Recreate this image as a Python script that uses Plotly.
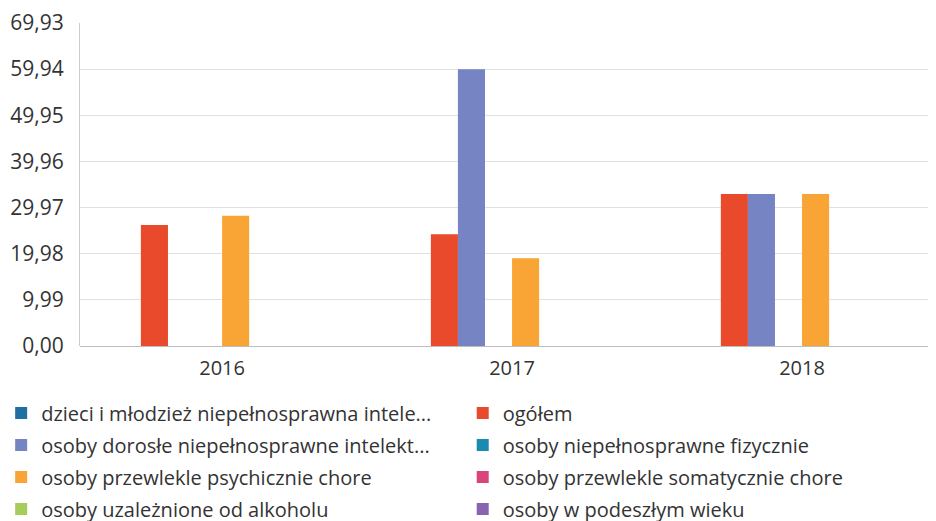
import plotly.graph_objects as go

years = ["2016", "2017", "2018"]

ogolem = [26.2, 24.2, 32.9]
dorosle = [None, 59.94, 32.9]
fizycznie = [None, None, None]
psychicznie = [28.2, 19.0, 32.9]
somatycznie = [None, None, None]
wieku = [None, None, None]
dzieci = [None, None, None]
alkohol = [None, None, None]

tick_step = 9.99
y_max = 69.93

# (name, values, color, slot, legend, rank)
series = [
    ("ogółem", ogolem, "#E84A2B", "0", "legend2", 1),
    ("osoby dorosłe niepełnosprawne intelekt...", dorosle, "#7684C4", "1", "legend", 2),
    ("osoby niepełnosprawne fizycznie", fizycznie, "#1A8BB0", "2", "legend2", 3),
    ("osoby przewlekle psychicznie chore", psychicznie, "#F8A535", "3", "legend", 4),
    ("osoby przewlekle somatycznie chore", somatycznie, "#D9457A", "4", "legend2", 5),
    ("osoby w podeszłym wieku", wieku, "#8A62B0", "5", "legend2", 7),
    ("dzieci i młodzież niepełnosprawna intele...", dzieci, "#1F6FA0", "0", "legend", 0),
    ("osoby uzależnione od alkoholu", alkohol, "#A8CC5A", "5", "legend", 6),
]

fig = go.Figure()
for name, vals, color, slot, leg, rank in series:
    fig.add_trace(go.Bar(
        x=years, y=vals, name=name, marker_color=color,
        offsetgroup=slot, legend=leg, legendrank=rank, legendgroup=name,
        marker_line_width=0,
    ))

font = "Open Sans, DejaVu Sans, sans-serif"
leg_common = dict(yref="container", yanchor="top",
                  xanchor="left", orientation="v", tracegroupgap=3,
                  font=dict(size=20, color="#333333"), itemwidth=30,
                  bgcolor="rgba(0,0,0,0)")
fig.update_layout(
    width=928, height=521,
    margin=dict(l=72, r=0, t=15, b=183, autoexpand=False),
    paper_bgcolor="white", plot_bgcolor="white",
    barmode="group", bargap=0.44, bargroupgap=0,
    separators=", ",
    font=dict(family=font, size=20, color="#333333"),
    xaxis=dict(type="category", range=[-0.49, 2.462], showgrid=False,
               showline=False, ticks="", automargin=False,
               ticklabelstandoff=8,
               tickfont=dict(size=20, color="#333333")),
    yaxis=dict(range=[0, y_max], tick0=0, dtick=tick_step, tickformat=".2f",
               showgrid=True, gridcolor="#e0e0e0", gridwidth=1,
               showline=True, linecolor="#cccccc", linewidth=1,
               zeroline=True, zerolinecolor="#bdbdbd", zerolinewidth=1,
               automargin=False,
               tickfont=dict(size=21, color="#333333"), ticklabelstandoff=11),
    legend=dict(xref="paper", x=-0.0921, y=0.26, **leg_common),
    legend2=dict(xref="container", x=0.49, y=0.26, **leg_common),
)

fig.write_html("out.html")
